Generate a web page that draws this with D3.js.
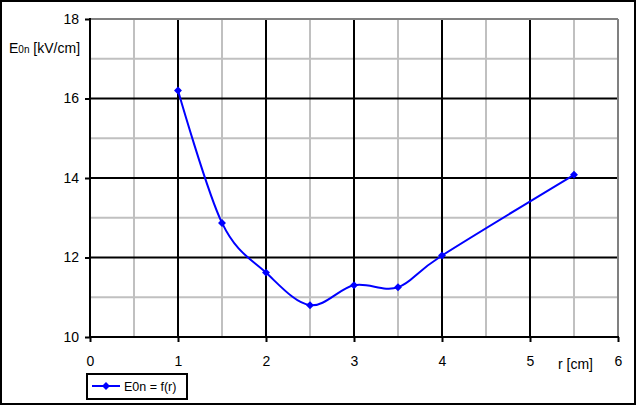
<!DOCTYPE html>
<html><head><meta charset="utf-8">
<script src="https://cdn.jsdelivr.net/npm/d3@7"></script>
<style>body{margin:0;background:#fff}svg{display:block}text{font-family:"Liberation Sans",Arial,sans-serif}</style>
</head><body><svg id="c" width="637" height="406"></svg>
<script>
const rValues = [1, 1.5, 2, 2.5, 3, 3.5, 4, 5.5];
const e0nValues = [16.2, 12.87, 11.62, 10.8, 11.3, 11.25, 12.05, 14.08];
const xTicks = [0, 1, 2, 3, 4, 5, 6];
const yTicks = [10, 12, 14, 16, 18];
const xMinor = [0.5, 1.5, 2.5, 3.5, 4.5, 5.5];
const yMinor = [11, 13, 15, 17];
const seriesName = "E0n = f(r)";

const svg = d3.select("#c");
const x = d3.scaleLinear().domain([0, 6]).range([90, 618]);
const y = d3.scaleLinear().domain([10, 18]).range([337, 19]);

// outer border
svg.append("rect").attr("x", 1).attr("y", 1).attr("width", 634).attr("height", 403)
  .attr("fill", "#fff").attr("stroke", "#000").attr("stroke-width", 2);

const g = svg.append("g");
// minor grid
g.selectAll(".vm").data(xMinor).join("line").attr("x1", d => x(d)).attr("x2", d => x(d))
  .attr("y1", y(10)).attr("y2", y(18)).attr("stroke", "#c0c0c0").attr("stroke-width", 2);
g.selectAll(".hm").data(yMinor).join("line").attr("y1", d => y(d)).attr("y2", d => y(d))
  .attr("x1", x(0)).attr("x2", x(6)).attr("stroke", "#c0c0c0").attr("stroke-width", 2);
// major grid
g.selectAll(".vM").data(xTicks.filter(d => d > 0 && d < 6)).join("line").attr("x1", d => x(d)).attr("x2", d => x(d))
  .attr("y1", y(10)).attr("y2", y(18)).attr("stroke", "#000").attr("stroke-width", 2);
g.selectAll(".hM").data(yTicks.filter(d => d > 10 && d < 18)).join("line").attr("y1", d => y(d)).attr("y2", d => y(d))
  .attr("x1", x(0)).attr("x2", x(6)).attr("stroke", "#000").attr("stroke-width", 2);
// gray plot border top/right
g.append("line").attr("x1", x(0)).attr("x2", x(6)).attr("y1", y(18)).attr("y2", y(18)).attr("stroke", "#808080").attr("stroke-width", 2);
g.append("line").attr("x1", x(6)).attr("x2", x(6)).attr("y1", y(18)).attr("y2", y(10)).attr("stroke", "#808080").attr("stroke-width", 2);

// axes
const xAxis = d3.axisBottom(x).tickValues(xTicks).tickSize(5).tickPadding(14).tickFormat(d3.format("d"));
const yAxis = d3.axisLeft(y).tickValues(yTicks).tickSize(5).tickPadding(6).tickFormat(d3.format("d"));
const xa = svg.append("g").attr("transform", `translate(0,${y(10)})`).call(xAxis);
const ya = svg.append("g").attr("transform", `translate(${x(0)},0)`).call(yAxis);
[xa, ya].forEach(a => {
  a.select(".domain").remove();
  a.selectAll("line").attr("stroke", "#000").attr("stroke-width", 2);
  a.selectAll("text").attr("font-size", 14).attr("fill", "#000");
});
xa.append("line").attr("x1", x(0) - 1).attr("x2", x(6) + 1).attr("stroke", "#000").attr("stroke-width", 2);
ya.append("line").attr("y1", y(18) - 1).attr("y2", y(10) + 1).attr("stroke", "#000").attr("stroke-width", 2);
ya.selectAll(".tick text").attr("x", -11);

// line
const data = rValues.map((r, i) => [r, e0nValues[i]]);
svg.append("path").datum(data)
  .attr("d", d3.line().x(d => x(d[0])).y(d => y(d[1])).curve(d3.curveCardinal.tension(0)))
  .attr("fill", "none").attr("stroke", "#0000ff").attr("stroke-width", 2);
const diamond = d3.symbol().type(d3.symbolDiamond2).size(40);
svg.selectAll(".pt").data(data).join("path")
  .attr("transform", d => `translate(${x(d[0])},${y(d[1])})`)
  .attr("d", diamond).attr("fill", "#0000ff");

// y label
const yl = svg.append("text").attr("x", 9).attr("y", 53).attr("font-size", 14).attr("fill", "#000");
yl.append("tspan").text("E");
yl.append("tspan").attr("font-size", 10).text("0n");
yl.append("tspan").text(" [kV/cm]");
// x label
svg.append("text").attr("x", 558).attr("y", 369).attr("font-size", 14).attr("fill", "#000").text("r [cm]");

// legend
const lg = svg.append("g");
lg.append("rect").attr("x", 87).attr("y", 374).attr("width", 100).attr("height", 25)
  .attr("fill", "#fff").attr("stroke", "#000").attr("stroke-width", 2);
lg.append("line").attr("x1", 92).attr("x2", 120).attr("y1", 386).attr("y2", 386).attr("stroke", "#0000ff").attr("stroke-width", 2);
lg.append("path").attr("transform", "translate(106,386)").attr("d", diamond).attr("fill", "#0000ff");
lg.append("text").attr("x", 124).attr("y", 391).attr("font-size", 12.5).attr("fill", "#000").text(seriesName);
</script></body></html>
